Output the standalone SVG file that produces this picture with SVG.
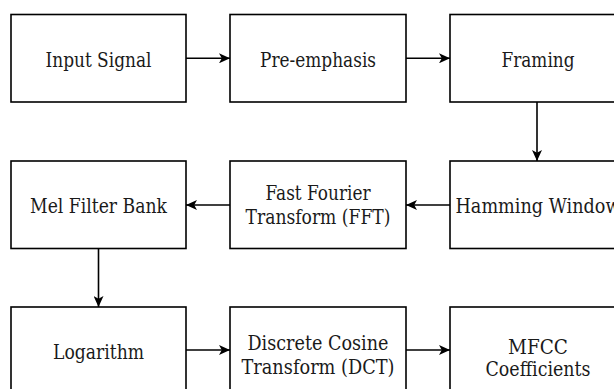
<svg xmlns="http://www.w3.org/2000/svg" width="614" height="389" viewBox="0 0 614 389">
  <style>
    .box { fill: #ffffff; stroke: #000000; stroke-width: 1.6; }
    .lbl { font-family: "DejaVu Serif", "Liberation Serif", serif; font-size: 20px; fill: #1a1a1a; text-anchor: middle; }
    .edge { fill: none; stroke: #000000; stroke-width: 1.6; marker-end: url(#arrow); }
  </style>
  <defs>
    <marker id="arrow" markerUnits="userSpaceOnUse" viewBox="0 0 11 10" refX="11" refY="5" markerWidth="11" markerHeight="10" orient="auto">
      <path d="M0,0 L11,5 L0,10 L2.8,5 z" fill="#000000"/>
    </marker>
  </defs>
  <rect width="614" height="389" fill="#ffffff"/>

  <!-- row 1 -->
  <g id="input-signal">
    <rect class="box" x="11" y="14.5" width="175" height="87.5"/>
    <text class="lbl" x="98.5" y="66.5" textLength="106" lengthAdjust="spacingAndGlyphs">Input Signal</text>
  </g>
  <g id="pre-emphasis">
    <rect class="box" x="230" y="14.5" width="176" height="87.5"/>
    <text class="lbl" x="318" y="66.5" textLength="116" lengthAdjust="spacingAndGlyphs">Pre-emphasis</text>
  </g>
  <g id="framing">
    <rect class="box" x="450" y="14.5" width="176" height="87.5"/>
    <text class="lbl" x="538" y="66.5" textLength="73" lengthAdjust="spacingAndGlyphs">Framing</text>
  </g>

  <!-- row 2 -->
  <g id="mel-filter-bank">
    <rect class="box" x="11" y="161" width="175" height="87.5"/>
    <text class="lbl" x="98.5" y="213" textLength="137" lengthAdjust="spacingAndGlyphs">Mel Filter Bank</text>
  </g>
  <g id="fft">
    <rect class="box" x="230" y="161" width="176" height="87.5"/>
    <text class="lbl" x="318" y="200" textLength="105" lengthAdjust="spacingAndGlyphs">Fast Fourier</text>
    <text class="lbl" x="318" y="224" textLength="145" lengthAdjust="spacingAndGlyphs">Transform (FFT)</text>
  </g>
  <g id="hamming-window">
    <rect class="box" x="450" y="161" width="176" height="87.5"/>
    <text class="lbl" x="538" y="213" textLength="165" lengthAdjust="spacingAndGlyphs">Hamming Window</text>
  </g>

  <!-- row 3 -->
  <g id="logarithm">
    <rect class="box" x="11" y="307" width="175" height="90"/>
    <text class="lbl" x="98.5" y="359" textLength="91" lengthAdjust="spacingAndGlyphs">Logarithm</text>
  </g>
  <g id="dct">
    <rect class="box" x="230" y="307" width="176" height="90"/>
    <text class="lbl" x="318" y="350" textLength="141" lengthAdjust="spacingAndGlyphs">Discrete Cosine</text>
    <text class="lbl" x="318" y="374" textLength="153" lengthAdjust="spacingAndGlyphs">Transform (DCT)</text>
  </g>
  <g id="mfcc">
    <rect class="box" x="450" y="307" width="176" height="90"/>
    <text class="lbl" x="538" y="354" textLength="60" lengthAdjust="spacingAndGlyphs">MFCC</text>
    <text class="lbl" x="538" y="376" textLength="105" lengthAdjust="spacingAndGlyphs">Coefficients</text>
  </g>

  <!-- connectors -->
  <g id="connectors">
    <line class="edge" x1="186" y1="58.3" x2="230" y2="58.3"/>
    <line class="edge" x1="406" y1="58.3" x2="450" y2="58.3"/>
    <line class="edge" x1="537" y1="102" x2="537" y2="161"/>
    <line class="edge" x1="450" y1="205" x2="406" y2="205"/>
    <line class="edge" x1="230" y1="205" x2="186" y2="205"/>
    <line class="edge" x1="98.5" y1="248.5" x2="98.5" y2="307"/>
    <line class="edge" x1="186" y1="350" x2="230" y2="350"/>
    <line class="edge" x1="406" y1="350" x2="450" y2="350"/>
  </g>
</svg>
